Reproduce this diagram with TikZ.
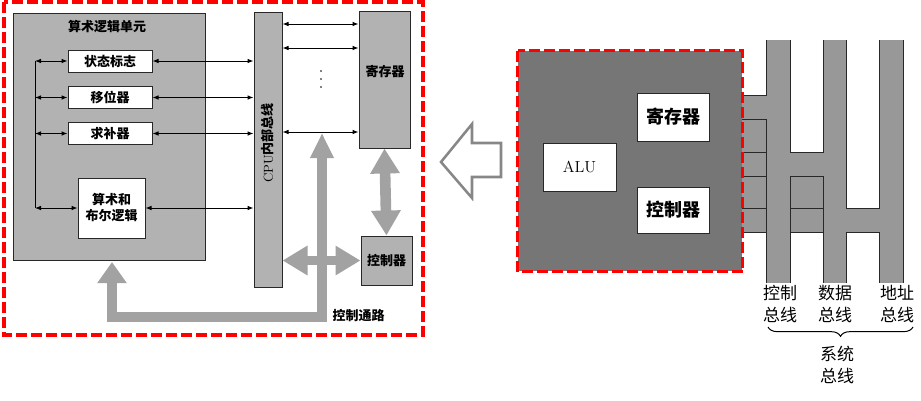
\documentclass[tikz,border=0pt]{standalone}
\usepackage{fontspec}
\newfontfamily\cjk{Noto Sans CJK SC}
\usetikzlibrary{arrows.meta,decorations.pathreplacing}

\definecolor{framered}{RGB}{255,0,0}
\definecolor{boxgray}{RGB}{178,178,178}
\definecolor{fatgray}{RGB}{162,162,162}
\definecolor{cpugray}{RGB}{118,118,118}
\definecolor{busgray}{RGB}{152,152,152}
\definecolor{hollowgray}{RGB}{135,135,135}
\definecolor{edgegray}{RGB}{40,40,40}

\tikzset{every picture/.style={line width=0.75pt}}
\tikzset{
	redframe/.style={draw=framered, line width=2.6pt, dash pattern=on 8.25pt off 3pt},
	whitebox/.style={draw=edgegray, fill=white, inner sep=0pt, font=\cjk\bfseries\fontsize{9.75}{12}\selectfont, align=center},
	graybox/.style={draw=edgegray, fill=boxgray, inner sep=0pt},
	cjklabel/.style={inner sep=0pt, font=\cjk\bfseries\fontsize{9.75}{12}\selectfont, align=center},
	buslabel/.style={inner sep=0pt, font=\cjk\fontsize{12.75}{16.5}\selectfont, align=center},
	dblarrow/.style={{Latex[length=4.5pt,width=3.5pt]}-{Latex[length=4.5pt,width=3.5pt]}},
	fatarrow/.style={draw=fatgray, line width=7.5pt, line join=miter},
	fathead/.tip={Triangle[length=18.75pt,width=21pt]},
	busline/.style={draw=edgegray}
}

\begin{document}
\begin{tikzpicture}[x=0.75pt,y=0.75pt,yscale=-1,xscale=1]
	\useasboundingbox (0,0) rectangle (921,400);

	%Shape: Rectangle (arithmetic logic unit)
	\node (alu) at (109,136.5) [graybox, minimum width=144pt, minimum height=185.25pt] {};
	% Text Node
	\node (alutitle) at (107,27) [cjklabel] {算术逻辑单元};
	%Shape: Rectangle
	\node (flag) at (110,61) [whitebox, minimum width=63pt, minimum height=16.5pt] {状态标志};
	%Shape: Rectangle
	\node (shift) at (110,97.5) [whitebox, minimum width=63pt, minimum height=16pt] {移位器};
	%Shape: Rectangle
	\node (comp) at (110,133.5) [whitebox, minimum width=63pt, minimum height=16pt] {求补器};
	%Shape: Rectangle
	\node (logic) at (111.5,208) [whitebox, minimum width=50.25pt, minimum height=45pt] {算术和\\布尔逻辑};

	%Shape: Rectangle (internal bus)
	\node (bus) at (268,149.5) [graybox, minimum width=21pt, minimum height=206.25pt] {};
	% Text Node
	\node (bustext) at (268,143) [rotate=90, inner sep=0pt, font=\fontsize{9.75}{12}\selectfont] {CPU{\cjk\bfseries 内部总线}};
	%Shape: Rectangle
	\node (reg) at (384.5,79.5) [graybox, minimum width=38.25pt, minimum height=102.75pt] {};
	% Text Node
	\node (regtext) at (385,72) [cjklabel] {寄存器};
	%Shape: Rectangle
	\node (ctrl) at (386.5,260.5) [graybox, minimum width=38.25pt, minimum height=36.75pt, font=\cjk\bfseries\fontsize{9.75}{12}\selectfont] {控制器};
	% dots between register lines
	\foreach \y in {71,79,87} {
		\fill (321,\y) circle (0.9);
	}

	% control path
	\coordinate (cptop) at (322,133);
	\coordinate (cpcorner) at (322,317);
	\coordinate (cpleft) at (112,317);
	\coordinate (cpend) at (112,262);
	\draw [fatarrow, {Triangle[length=15.75pt,width=21pt]}-{Triangle[length=18.75pt,width=16.5pt]}] (cpend) -- (cpleft) -- (cpcorner) -- (cptop);
	\draw [fatarrow, line width=8pt, fathead-fathead] (reg.south) -- (ctrl.north);
	\draw [fatarrow, line width=7pt, fathead-fathead] (bus.east |- ctrl.west) -- (ctrl.west);
	% Text Node
	\node (pathtext) at (358.5,316) [cjklabel] {控制通路};

	% left collector line
	\coordinate (vtop) at (35,61);
	\coordinate (vbot) at (35,208);
	\draw (vtop) -- (vbot);
	\draw [dblarrow] (vtop) -- (flag.west);
	\draw [dblarrow] (vtop |- shift.west) -- (shift.west);
	\draw [dblarrow] (vtop |- comp.west) -- (comp.west);
	\draw [dblarrow] (vbot) -- (logic.west);
	% to internal bus
	\draw [dblarrow] (flag.east) -- (bus.west |- flag.east);
	\draw [dblarrow] (shift.east) -- (bus.west |- shift.east);
	\draw [dblarrow] (comp.east) -- (bus.west |- comp.east);
	\draw [dblarrow] (logic.east) -- (bus.west |- logic.east);
	% to registers
	\coordinate (r1) at (0,24);
	\coordinate (r2) at (0,48);
	\coordinate (r3) at (0,132);
	\draw [dblarrow] (bus.east |- r1) -- (reg.west |- r1);
	\draw [dblarrow] (bus.east |- r2) -- (reg.west |- r2);
	\draw [dblarrow] (bus.east |- r3) -- (reg.west |- r3);

	%Shape: Rectangle (left frame)
	\draw [redframe] (4,2) rectangle (423,335);

	%Shape: Hollow Left Arrow
	\draw [draw=hollowgray, line width=1.9pt, fill=white, line join=miter] (441,162) -- (472,124) -- (472,143) -- (501,143) -- (501,177) -- (472,177) -- (472,198) -- cycle;

	% system buses
	\fill [busgray] (766,40) rectangle (790,283);
	\fill [busgray] (823,40) rectangle (846,283);
	\fill [busgray] (879,40) rectangle (903,283);
	\fill [busgray] (742,95) rectangle (766,232);
	\fill [busgray] (790,152) rectangle (823,232);
	\fill [busgray] (846,208) rectangle (879,232);
	\draw [busline] (766,40) -- (766,95) -- (742,95);
	\draw [busline] (742,119) -- (766,119) -- (766,283);
	\draw [busline] (790,40) -- (790,152) -- (823,152) -- (823,40);
	\draw [busline] (790,283) -- (790,176) -- (823,176) -- (823,283);
	\draw [busline] (846,40) -- (846,208) -- (879,208) -- (879,40);
	\draw [busline] (846,283) -- (846,232) -- (879,232) -- (879,283);
	\draw [busline] (903,40) -- (903,283);
	\foreach \y in {152,176,208,232} {
		\draw [busline] (742,\y) -- (766,\y);
	}
	\draw [busline] (790,208) -- (823,208);
	\draw [busline] (790,232) -- (823,232);

	%Shape: Rectangle (CPU)
	\node (cpu) at (630,161) [fill=cpugray, minimum width=168pt, minimum height=165pt, inner sep=0pt] {};
	\draw [redframe] (cpu.north west) rectangle (cpu.south east);
	%Shape: Rectangle
	\node (alu2) at (579.5,167) [whitebox, minimum width=54.75pt, minimum height=36pt, font=\fontsize{12}{14}\selectfont] {ALU};
	%Shape: Rectangle
	\node (reg2) at (673,117) [whitebox, minimum width=54pt, minimum height=36pt, font=\cjk\bfseries\fontsize{13.5}{16}\selectfont] {寄存器};
	%Shape: Rectangle
	\node (ctrl2) at (673,210) [whitebox, minimum width=54pt, minimum height=34.5pt, font=\cjk\bfseries\fontsize{13.5}{16}\selectfont] {控制器};

	% Text Node
	\node (lblC) at (780,304) [buslabel] {控制\\总线};
	% Text Node
	\node (lblD) at (835,304) [buslabel] {数据\\总线};
	% Text Node
	\node (lblA) at (897,304) [buslabel] {地址\\总线};
	\coordinate (brl) at (768,327);
	\coordinate (brr) at (913,327);
	\draw [decorate, decoration={brace, amplitude=7pt, mirror}] (brl) -- (brr);
	% Text Node
	\node (lblS) at (837,365) [buslabel] {系统\\总线};

\end{tikzpicture}
\end{document}
